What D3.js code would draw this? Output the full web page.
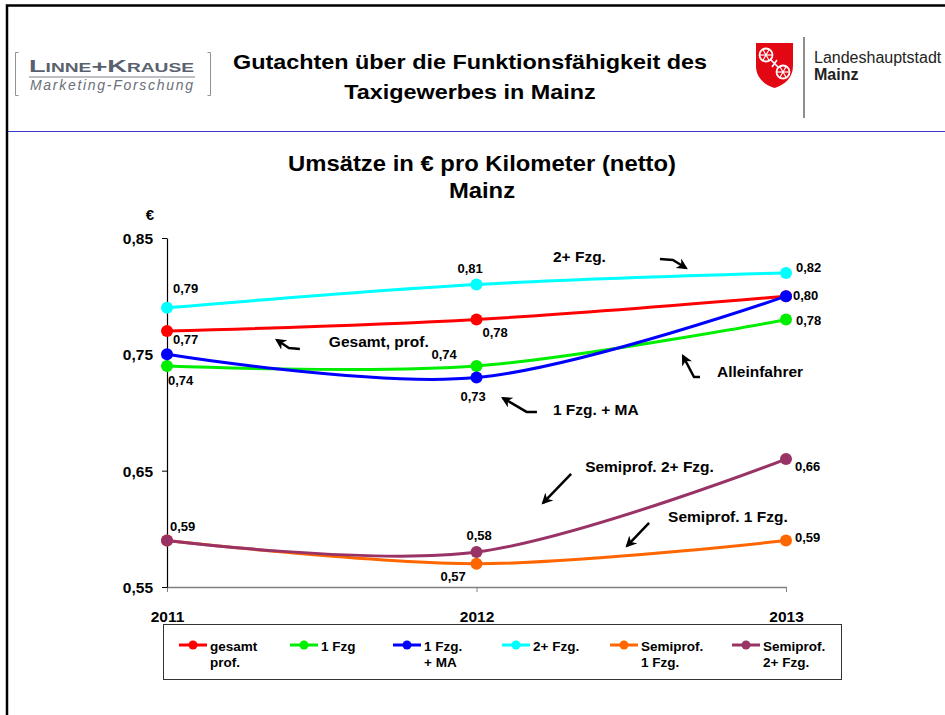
<!DOCTYPE html>
<html>
<head>
<meta charset="utf-8">
<script src="https://cdn.jsdelivr.net/npm/d3@7"></script>
<style>
  body { margin: 0; background: #fff; }
  svg { display: block; font-family: "Liberation Sans", Arial, sans-serif; }
</style>
</head>
<body>
<div id="chart"></div>
<script>
// data
const years = [2011, 2012, 2013]
const seriesNames = ['gesamt prof.', '1 Fzg', '1 Fzg. + MA', '2+ Fzg.', 'Semiprof. 1 Fzg.', 'Semiprof. 2+ Fzg.']
const legendLabels = [['gesamt', 'prof.'], ['1 Fzg'], ['1 Fzg.', '+ MA'], ['2+ Fzg.'], ['Semiprof.', '1 Fzg.'], ['Semiprof.', '2+ Fzg.']]
const gesamtProf = [0.77, 0.78, 0.80]
const einFzg = [0.74, 0.74, 0.78]
const einFzgMA = [0.75, 0.73, 0.80]
const zweiPlusFzg = [0.79, 0.81, 0.82]
const semiEinFzg = [0.59, 0.57, 0.59]
const semiZweiPlus = [0.59, 0.58, 0.66]
const yTicks = [0.55, 0.65, 0.75, 0.85]
const annotationTexts = ['2+ Fzg.', 'Gesamt, prof.', '1 Fzg. + MA', 'Alleinfahrer', 'Semiprof. 2+ Fzg.', 'Semiprof. 1 Fzg.']

// styling / layout
const colors = ['#ff0000', '#00ee00', '#0000ff', '#00ffff', '#ff6600', '#993366']
// label offsets per point (px), null = no label
const labelOffsets = [
    [[6, 13], [6, 18], null],
    [[1, 19], [-45, -7], [10, 6]],
    [null, [-16, 23], [7, 4]],
    [[6, -15], [-19, -12], [10, -1]],
    [null, [-36, 17], [9, 2]],
    [[3, -9], [-10, -12], [9, 12]]
]
// annotation anchors in data space, arrow offsets in px from the anchor
const annotationAnchors = [[2012.247, 0.8294], [2011.523, 0.7563], [2012.247, 0.6978], [2012.777, 0.7305], [2012.351, 0.6489], [2012.619, 0.6059]]
const annotationArrows = [
    [[107, -3], [120, -2], [133, 6]],
    [[-29, 2], [-40, 1], [-52, -7]],
    [[-16, -3], [-26, -3], [-50, -17]],
    [[-17, 0], [-23, 0], [-34, -21]],
    [[-14, 2], [-42, 31]],
    [[-19, 1], [-41, 24]]
]
const legendX = [210, 321, 424, 533, 641, 763]

const W = 945, H = 715
const svg = d3.select('#chart').append('svg')
    .attr('width', W)
    .attr('height', H)

/*
 * Page frame and header
 */
svg.append('path')
    .attr('d', `M7,${H} V5.5 H${W}`)
    .attr('fill', 'none')
    .attr('stroke', '#000')
    .attr('stroke-width', 2.5)

svg.append('line')
    .attr('x1', 8).attr('x2', W)
    .attr('y1', 131.5).attr('y2', 131.5)
    .attr('stroke', '#3a3acc')
    .attr('stroke-width', 1)

// Linne+Krause logo
const lk = svg.append('g')
lk.append('path')
    .attr('d', 'M18.5,52.5 H15.5 V95.5 H18.5 M207.5,52.5 H210.5 V95.5 H207.5')
    .attr('fill', 'none')
    .attr('stroke', '#8d929b')
    .attr('stroke-width', 1)
lk.append('text')
    .attr('x', 29).attr('y', 72)
    .attr('textLength', 165)
    .attr('lengthAdjust', 'spacingAndGlyphs')
    .style('font-size', '17px')
    .style('font-weight', 'bold')
    .style('font-variant', 'small-caps')
    .style('fill', '#59616f')
    .text('Linne+Krause')
lk.append('line')
    .attr('x1', 29).attr('x2', 195)
    .attr('y1', 77).attr('y2', 77)
    .attr('stroke', '#7c818b')
    .attr('stroke-width', 1)
lk.append('text')
    .attr('x', 30).attr('y', 90)
    .attr('textLength', 163)
    .attr('lengthAdjust', 'spacing')
    .style('font-size', '14px')
    .style('font-style', 'italic')
    .style('fill', '#6a6f79')
    .text('Marketing-Forschung')

// header title (slightly stretched horizontally like the original slide)
const headerTitle = svg.append('g')
    .attr('transform', 'translate(470,0) scale(1.2,1)')
    .append('text')
    .attr('text-anchor', 'middle')
    .style('font-size', '19.5px')
    .style('font-weight', 'bold')
    .style('fill', '#000')
headerTitle.append('tspan').attr('x', 0).attr('y', 69).text('Gutachten über die Funktionsfähigkeit des')
headerTitle.append('tspan').attr('x', 0).attr('y', 99).text('Taxigewerbes in Mainz')

// Mainz logo
const mz = svg.append('g')
mz.append('path')
    .attr('d', 'M756,43 H793 V66 C793,78 784,85 774.5,88 C765,85 756,78 756,66 Z')
    .attr('fill', '#e30613')
const wheels = [[766, 55], [783, 72]]
wheels.forEach(function(c) {
    mz.append('circle')
        .attr('cx', c[0]).attr('cy', c[1]).attr('r', 6.5)
        .attr('fill', 'none').attr('stroke', '#fff').attr('stroke-width', 1.8)
    for (let k = 0; k < 3; k++) {
        const a = k * Math.PI / 3
        mz.append('line')
            .attr('x1', c[0] + 6 * Math.cos(a)).attr('y1', c[1] + 6 * Math.sin(a))
            .attr('x2', c[0] - 6 * Math.cos(a)).attr('y2', c[1] - 6 * Math.sin(a))
            .attr('stroke', '#fff').attr('stroke-width', 1.2)
    }
})
mz.append('path')
    .attr('d', 'M770,59 L779,68 M772,67 L777,60')
    .attr('stroke', '#fff').attr('stroke-width', 1.6)
mz.append('line')
    .attr('x1', 804).attr('x2', 804)
    .attr('y1', 37).attr('y2', 118)
    .attr('stroke', '#444').attr('stroke-width', 1.2)
mz.append('text')
    .attr('x', 814).attr('y', 63)
    .style('font-size', '16px')
    .style('fill', '#222')
    .text('Landeshauptstadt')
mz.append('text')
    .attr('x', 814).attr('y', 80)
    .style('font-size', '16px')
    .style('font-weight', 'bold')
    .style('fill', '#222')
    .text('Mainz')

/*
 * Chart title
 */
const title = svg.append('g')
    .attr('transform', 'translate(482,0) scale(1.06,1)')
    .append('text')
    .attr('text-anchor', 'middle')
    .style('font-size', '22.5px')
    .style('font-weight', 'bold')
title.append('tspan').attr('x', 0).attr('y', 171).text('Umsätze in € pro Kilometer (netto)')
title.append('tspan').attr('x', 0).attr('y', 198).text('Mainz')

/*
 * X and Y scales.
 */
const xScale = d3.scaleLinear()
    .domain([2011, 2013])
    .range([167, 786])

const yScale = d3.scaleLinear()
    .domain([0.55, 0.85])
    .range([587, 238])

const fmt = v => d3.format('.2f')(v).replace('.', ',')

/*
 * Axes
 */
const xAxis = d3.axisBottom(xScale)
    .tickValues(years)
    .tickFormat(d3.format('d'))
    .tickSizeInner(5)
    .tickSizeOuter(0)

const gx = svg.append('g')
    .attr('transform', `translate(0, ${yScale(0.55)})`)
    .call(xAxis)
gx.select('.domain').attr('stroke', '#808080').attr('stroke-width', 1.5)
gx.selectAll('.tick line').attr('stroke', '#808080')
gx.selectAll('.tick text')
    .attr('y', 24)
    .style('font-size', '15.5px')
    .style('font-weight', 'bold')
    .style('font-family', '"Liberation Sans", Arial, sans-serif')
    .attr('fill', '#000')

const yAxis = d3.axisLeft(yScale)
    .tickValues(yTicks)
    .tickFormat(fmt)
    .tickSizeInner(5)
    .tickSizeOuter(0)

const gy = svg.append('g')
    .attr('transform', `translate(${xScale(2011)}, 0)`)
    .call(yAxis)
gy.select('.domain').attr('stroke', '#000').attr('stroke-width', 1.2)
gy.selectAll('.tick text')
    .attr('x', -14)
    .attr('dy', '0.36em')
    .style('font-size', '15.5px')
    .style('font-weight', 'bold')
    .style('font-family', '"Liberation Sans", Arial, sans-serif')
    .attr('fill', '#000')

svg.append('text')
    .attr('x', xScale(2011) - 17)
    .attr('y', yScale(0.85) - 18)
    .attr('text-anchor', 'middle')
    .style('font-size', '15px')
    .style('font-weight', 'bold')
    .text('€')

/*
 * Lines, points and value labels
 */
const allSeries = [gesamtProf, einFzg, einFzgMA, zweiPlusFzg, semiEinFzg, semiZweiPlus]

const line = d3.line()
    .x((d, i) => xScale(years[i]))
    .y(d => yScale(d))
    .curve(d3.curveCardinal.tension(0))

allSeries.forEach(function(values, s) {
    svg.append('path')
        .datum(values)
        .attr('d', line)
        .style('stroke', colors[s])
        .style('stroke-width', 3)
        .style('fill', 'none')

    svg.selectAll('.pt' + s)
        .data(values)
        .enter().append('circle')
        .attr('cx', (d, i) => xScale(years[i]))
        .attr('cy', d => yScale(d))
        .attr('r', 6)
        .attr('fill', colors[s])
})

allSeries.forEach(function(values, s) {
    values.forEach(function(v, i) {
        const off = labelOffsets[s][i]
        if (!off) return
        svg.append('text')
            .attr('x', xScale(years[i]) + off[0])
            .attr('y', yScale(v) + off[1])
            .style('font-size', '13px')
            .style('font-weight', 'bold')
            .text(fmt(v))
    })
})

/*
 * Annotations with arrows
 */
const defs = svg.append('defs')
defs.append('marker')
    .attr('id', 'arrowhead')
    .attr('viewBox', '0 0 10 10')
    .attr('refX', 8).attr('refY', 5)
    .attr('markerWidth', 4.5).attr('markerHeight', 4.5)
    .attr('orient', 'auto')
    .append('path')
    .attr('d', 'M0,0 L10,5 L0,10 L3,5 Z')
    .attr('fill', '#000')

const arrowLine = d3.line()

annotationTexts.forEach(function(t, k) {
    const ax = xScale(annotationAnchors[k][0])
    const ay = yScale(annotationAnchors[k][1])
    svg.append('text')
        .attr('x', ax).attr('y', ay)
        .style('font-size', '15.5px')
        .style('font-weight', 'bold')
        .text(t)
    svg.append('path')
        .attr('d', arrowLine(annotationArrows[k].map(p => [ax + p[0], ay + p[1]])))
        .attr('fill', 'none')
        .attr('stroke', '#000')
        .attr('stroke-width', 2.5)
        .attr('stroke-linejoin', 'round')
        .attr('marker-end', 'url(#arrowhead)')
})

/*
 * Legend
 */
svg.append('rect')
    .attr('x', 163.5).attr('y', 624.5)
    .attr('width', 678).attr('height', 55)
    .attr('fill', '#fff')
    .attr('stroke', '#333')
    .attr('stroke-width', 1)

seriesNames.forEach(function(name, s) {
    const lx = legendX[s]
    const g = svg.append('g').attr('class', 'legend-item')
    g.append('line')
        .attr('x1', lx - 31).attr('x2', lx - 3)
        .attr('y1', 645).attr('y2', 645)
        .attr('stroke', colors[s])
        .attr('stroke-width', 3)
    g.append('circle')
        .attr('cx', lx - 17).attr('cy', 645).attr('r', 4.5)
        .attr('fill', colors[s])
    const txt = g.append('text')
        .style('font-size', '13.5px')
        .style('font-weight', 'bold')
    legendLabels[s].forEach(function(l, j) {
        txt.append('tspan').attr('x', lx).attr('y', 651 + j * 16).text(l)
    })
})
</script>
</body>
</html>
